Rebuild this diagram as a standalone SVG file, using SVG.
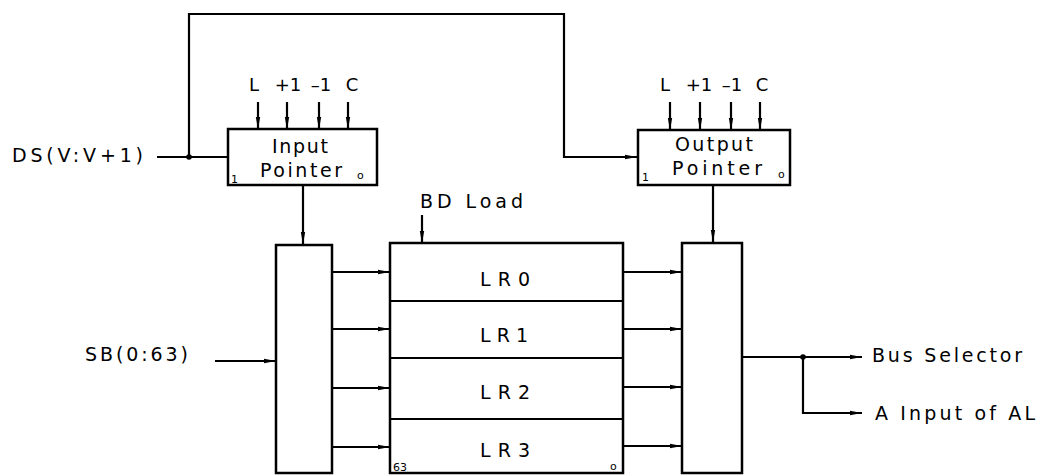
<svg xmlns="http://www.w3.org/2000/svg" width="1045" height="475" viewBox="0 0 1045 475">
<style>
.box{fill:#fff;stroke:#000;stroke-width:2.5}
.ln{fill:none;stroke:#000;stroke-width:2.2}
.t{font-family:"DejaVu Sans","Liberation Sans",Arial,sans-serif;font-size:19px;fill:#000}
.c{font-family:"DejaVu Sans","Liberation Sans",Arial,sans-serif;font-size:18px;fill:#000;text-anchor:middle}
.s{font-family:"DejaVu Sans","Liberation Sans",Arial,sans-serif;font-size:11px;fill:#000}
</style>
<defs>
<marker id="ah" markerWidth="12" markerHeight="6" refX="12" refY="3" orient="auto" markerUnits="userSpaceOnUse">
<path d="M0,0.8 L12,3 L0,5.2 Z" fill="#000"/>
</marker>
</defs>
<rect width="1045" height="475" fill="#fff"/>

<g id="connectors">
<path class="ln" d="M157,157 H228"/>
<path class="ln" d="M189,157 V14 H564 V157 H637" marker-end="url(#ah)"/>
<circle cx="189" cy="157" r="2.8" fill="#000"/>
<path class="ln" d="M258,102 V129" marker-end="url(#ah)"/>
<path class="ln" d="M287,102 V129" marker-end="url(#ah)"/>
<path class="ln" d="M319,102 V129" marker-end="url(#ah)"/>
<path class="ln" d="M348,102 V129" marker-end="url(#ah)"/>
<path class="ln" d="M670,102 V130" marker-end="url(#ah)"/>
<path class="ln" d="M700,102 V130" marker-end="url(#ah)"/>
<path class="ln" d="M731,102 V130" marker-end="url(#ah)"/>
<path class="ln" d="M760,102 V130" marker-end="url(#ah)"/>
<path class="ln" d="M303,185 V244" marker-end="url(#ah)"/>
<path class="ln" d="M713,185 V242" marker-end="url(#ah)"/>
<path class="ln" d="M422,215 V243" marker-end="url(#ah)"/>
<path class="ln" d="M215,361 H276" marker-end="url(#ah)"/>
<path class="ln" d="M332,272 H390" marker-end="url(#ah)"/>
<path class="ln" d="M332,329 H390" marker-end="url(#ah)"/>
<path class="ln" d="M332,388 H390" marker-end="url(#ah)"/>
<path class="ln" d="M332,447 H390" marker-end="url(#ah)"/>
<path class="ln" d="M623,272 H682" marker-end="url(#ah)"/>
<path class="ln" d="M623,329 H682" marker-end="url(#ah)"/>
<path class="ln" d="M623,387 H682" marker-end="url(#ah)"/>
<path class="ln" d="M623,446 H682" marker-end="url(#ah)"/>
<path class="ln" d="M742,357 H862" marker-end="url(#ah)"/>
<path class="ln" d="M803,357 V413 H862" marker-end="url(#ah)"/>
<circle cx="803" cy="357" r="2.8" fill="#000"/>
</g>

<g id="input-pointer">
<rect class="box" x="228" y="129" width="149" height="56"/>
<text class="t" x="272" y="153" textLength="56" lengthAdjust="spacing">Input</text>
<text class="t" x="260" y="177" textLength="82" lengthAdjust="spacing">Pointer</text>
<text class="s" x="231" y="183">1</text>
<text class="s" x="357" y="179">o</text>
<text class="c" x="254" y="91">L</text>
<text class="c" x="288" y="91">+1</text>
<text class="c" x="321" y="91">–1</text>
<text class="c" x="352" y="91">C</text>
</g>

<g id="output-pointer">
<rect class="box" x="638" y="130" width="152" height="55"/>
<text class="t" x="675" y="151" textLength="78" lengthAdjust="spacing">Output</text>
<text class="t" x="672" y="175" textLength="90" lengthAdjust="spacing">Pointer</text>
<text class="s" x="642" y="181">1</text>
<text class="s" x="778" y="178">o</text>
<text class="c" x="665" y="91">L</text>
<text class="c" x="699" y="91">+1</text>
<text class="c" x="732" y="91">–1</text>
<text class="c" x="762" y="91">C</text>
</g>

<g id="input-mux">
<rect class="box" x="276" y="245" width="56" height="228"/>
</g>

<g id="local-registers">
<rect class="box" x="390" y="243" width="233" height="230"/>
<path class="ln" d="M390,301 H623 M390,358 H623 M390,419 H623"/>
<text class="t" x="480" y="286" textLength="50" lengthAdjust="spacing">LR0</text>
<text class="t" x="480" y="342" textLength="48" lengthAdjust="spacing">LR1</text>
<text class="t" x="480" y="399" textLength="50" lengthAdjust="spacing">LR2</text>
<text class="t" x="480" y="457" textLength="50" lengthAdjust="spacing">LR3</text>
<text class="s" x="393" y="471">63</text>
<text class="s" x="610" y="470">o</text>
<text class="t" x="420" y="208" textLength="103" lengthAdjust="spacing">BD Load</text>
</g>

<g id="output-mux">
<rect class="box" x="682" y="243" width="60" height="230"/>
</g>

<g id="labels">
<text class="t" x="12" y="162" textLength="131" lengthAdjust="spacing">DS(V:V+1)</text>
<text class="t" x="85" y="361" textLength="103" lengthAdjust="spacing">SB(0:63)</text>
<text class="t" x="872" y="362" textLength="150" lengthAdjust="spacing">Bus Selector</text>
<text class="t" x="875" y="420" textLength="160" lengthAdjust="spacing">A Input of AL</text>
</g>
</svg>
